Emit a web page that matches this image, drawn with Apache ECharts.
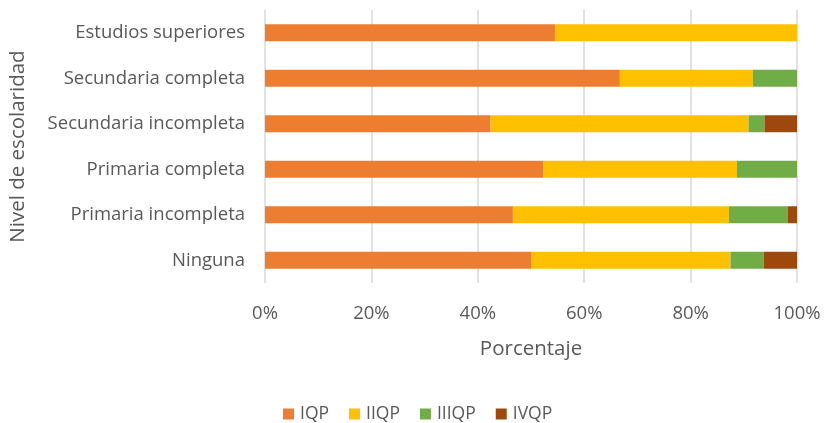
<!DOCTYPE html>
<html>
<head>
<meta charset="utf-8">
<script src="https://cdn.jsdelivr.net/npm/echarts@6/dist/echarts.min.js"></script>
<style>
  html, body { margin: 0; padding: 0; background: #fff; }
  #chart { width: 826px; height: 423px; }
</style>
</head>
<body>
<div id="chart"></div>
<script>
// categorías de abajo hacia arriba
var niveles = ["Ninguna", "Primaria incompleta", "Primaria completa", "Secundaria incompleta", "Secundaria completa", "Estudios superiores"];
var iqp = [50.0, 46.6, 52.3, 42.4, 66.7, 54.5];
var iiqp = [37.5, 40.6, 36.4, 48.5, 25.0, 45.5];
var iiiqp = [6.25, 11.1, 11.3, 3.0, 8.3, 0];
var ivqp = [6.25, 1.7, 0, 6.1, 0, 0];
var xTicks = [0, 20, 40, 60, 80, 100];

var textColor = "#595959";
var fontFam = "'Open Sans', 'Noto Sans', sans-serif";

var myChart = echarts.init(document.getElementById("chart"));

function serie(name, data, color) {
  return {
    name: name,
    type: "bar",
    stack: "total",
    barWidth: 17,
    data: data,
    itemStyle: { color: color },
    emphasis: { disabled: true }
  };
}

var option = {
  animation: false,
  textStyle: { fontFamily: fontFam },
  grid: {
    top: 10,
    left: 264,
    right: 29,
    bottom: 140
  },
  legend: {
    top: 400,
    left: 278,
    itemWidth: 11,
    itemHeight: 11,
    itemGap: 20,
    icon: "rect",
    textStyle: { color: textColor, fontSize: 17.5, fontFamily: fontFam, padding: [0, 0, 0, 1] },
    data: ["IQP", "IIQP", "IIIQP", "IVQP"]
  },
  xAxis: {
    type: "value",
    min: xTicks[0],
    max: xTicks[xTicks.length - 1],
    interval: 20,
    name: "Porcentaje",
    nameLocation: "center",
    nameGap: 56,
    nameTextStyle: { color: textColor, fontSize: 20.5, fontFamily: fontFam },
    axisLine: { show: false },
    axisTick: { show: false },
    axisLabel: {
      color: textColor,
      fontSize: 18.5,
      margin: 21,
      formatter: function (v) { return v + "%"; }
    },
    splitLine: { lineStyle: { color: "#D9D9D9", width: 1.5 } }
  },
  yAxis: {
    type: "category",
    data: niveles,
    name: "Nivel de escolaridad",
    nameLocation: "center",
    nameRotate: 90,
    nameGap: 236,
    nameTextStyle: { color: textColor, fontSize: 20.5, fontFamily: fontFam },
    axisLine: { show: false },
    axisTick: { show: false },
    axisLabel: { color: textColor, fontSize: 18.5, margin: 20 }
  },
  series: [
    serie("IQP", iqp, "#ED7D31"),
    serie("IIQP", iiqp, "#FFC000"),
    serie("IIIQP", iiiqp, "#70AD47"),
    serie("IVQP", ivqp, "#9E480E")
  ]
};

myChart.setOption(option, true);
</script>
</body>
</html>
